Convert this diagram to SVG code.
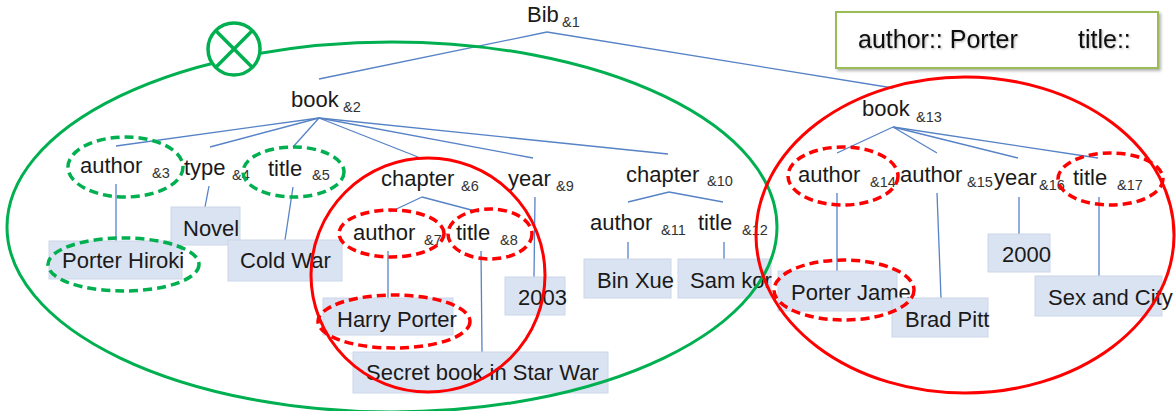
<svg xmlns="http://www.w3.org/2000/svg" width="1176" height="411" viewBox="0 0 1176 411">
<style>
  .lbl{font-family:"Liberation Sans",Arial,sans-serif;font-size:22px;fill:#1a1a1a}
  .sub{font-family:"Liberation Sans",Arial,sans-serif;font-size:14.5px;fill:#333}
  .leg{font-family:"Liberation Sans",Arial,sans-serif;font-size:25px;fill:#111}
  .box{fill:#dae3f1;stroke:#cbd6ea;stroke-width:1}
  .con line{stroke:#5682c6;stroke-width:1.3;fill:none}
  .gs{fill:none;stroke:#00b050;stroke-width:3}
  .gd{fill:none;stroke:#00b050;stroke-width:3.5;stroke-dasharray:9 5}
  .rs{fill:none;stroke:#ff0000;stroke-width:3}
  .rd{fill:none;stroke:#ff0000;stroke-width:3.5;stroke-dasharray:9 5}
</style>
<defs>
  <filter id="sh" x="-10%" y="-20%" width="130%" height="150%">
    <feDropShadow dx="2" dy="2" stdDeviation="1.5" flood-color="#000" flood-opacity="0.3"/>
  </filter>
  <filter id="tsh" x="-10%" y="-30%" width="120%" height="160%">
    <feDropShadow dx="1" dy="1" stdDeviation="1" flood-color="#000" flood-opacity="0.3"/>
  </filter>
</defs>

<g id="connectors" class="con">
  <line x1="547" y1="32" x2="319" y2="79"/>
  <line x1="547" y1="32" x2="893" y2="88"/>
  <line x1="319" y1="118" x2="116" y2="146"/>
  <line x1="319" y1="118" x2="210" y2="147"/>
  <line x1="319" y1="118" x2="293" y2="147"/>
  <line x1="319" y1="118" x2="418" y2="157"/>
  <line x1="319" y1="118" x2="533" y2="158"/>
  <line x1="319" y1="118" x2="668" y2="154"/>
  <line x1="116" y1="184" x2="116" y2="241"/>
  <line x1="209" y1="186" x2="205" y2="207"/>
  <line x1="293" y1="187" x2="285" y2="240"/>
  <line x1="422" y1="197" x2="390" y2="212"/>
  <line x1="422" y1="197" x2="479" y2="212"/>
  <line x1="388" y1="251" x2="388" y2="298"/>
  <line x1="481" y1="251" x2="482" y2="352"/>
  <line x1="535" y1="197" x2="534" y2="277"/>
  <line x1="669" y1="192" x2="628" y2="202"/>
  <line x1="669" y1="192" x2="723" y2="202"/>
  <line x1="628" y1="242" x2="628" y2="259"/>
  <line x1="724" y1="242" x2="724" y2="259"/>
  <line x1="893" y1="127" x2="837" y2="153"/>
  <line x1="893" y1="127" x2="937" y2="153"/>
  <line x1="893" y1="127" x2="1018" y2="158"/>
  <line x1="893" y1="127" x2="1098" y2="158"/>
  <line x1="837" y1="193" x2="837" y2="272"/>
  <line x1="937" y1="193" x2="941" y2="298"/>
  <line x1="1019" y1="197" x2="1019" y2="234"/>
  <line x1="1099" y1="197" x2="1099" y2="277"/>
</g>

<g id="n-bib"><text class="lbl" x="527" y="22">Bib</text><text class="sub" x="562" y="27">&amp;1</text></g>
<g id="n-book2"><text class="lbl" x="291" y="107">book</text><text class="sub" x="343" y="112">&amp;2</text></g>
<g id="n-author3"><text class="lbl" x="80" y="173">author</text><text class="sub" x="152" y="178">&amp;3</text></g>
<g id="n-type4"><text class="lbl" x="184" y="175">type</text><text class="sub" x="232" y="180">&amp;4</text></g>
<g id="n-title5"><text class="lbl" x="268" y="176">title</text><text class="sub" x="312" y="180">&amp;5</text></g>
<g id="n-chapter6"><text class="lbl" x="381" y="186">chapter</text><text class="sub" x="461" y="191">&amp;6</text></g>
<g id="n-year9"><text class="lbl" x="508" y="186">year</text><text class="sub" x="556" y="191">&amp;9</text></g>
<g id="n-chapter10"><text class="lbl" x="626" y="182">chapter</text><text class="sub" x="707" y="186">&amp;10</text></g>
<g id="n-author7"><text class="lbl" x="353" y="240">author</text><text class="sub" x="424" y="245">&amp;7</text></g>
<g id="n-title8"><text class="lbl" x="456" y="240">title</text><text class="sub" x="500" y="245">&amp;8</text></g>
<g id="n-author11"><text class="lbl" x="590" y="230">author</text><text class="sub" x="661" y="235">&amp;11</text></g>
<g id="n-title12"><text class="lbl" x="698" y="230">title</text><text class="sub" x="742" y="235">&amp;12</text></g>
<g id="n-book13"><text class="lbl" x="862" y="116">book</text><text class="sub" x="916" y="122">&amp;13</text></g>
<g id="n-author14"><text class="lbl" x="798" y="182">author</text><text class="sub" x="870" y="187">&amp;14</text></g>
<g id="n-author15"><text class="lbl" x="900" y="182">author</text><text class="sub" x="967" y="187">&amp;15</text></g>
<g id="n-year16"><text class="lbl" x="994" y="185">year</text><text class="sub" x="1039" y="190">&amp;16</text></g>
<g id="n-title17"><text class="lbl" x="1073" y="185">title</text><text class="sub" x="1117" y="190">&amp;17</text></g>

<g id="v-porter-hiroki"><rect class="box" x="49" y="241" width="133" height="38"/><text class="lbl" x="62" y="268">Porter Hiroki</text></g>
<g id="v-novel"><rect class="box" x="171" y="207" width="69" height="38"/><text class="lbl" x="183" y="236">Novel</text></g>
<g id="v-cold-war"><rect class="box" x="228" y="240" width="114" height="41"/><text class="lbl" x="240" y="268">Cold War</text></g>
<g id="v-harry-porter"><rect class="box" x="323" y="298" width="130" height="37"/><text class="lbl" x="337" y="327">Harry Porter</text></g>
<g id="v-secret"><rect class="box" x="353" y="352" width="255" height="41"/><text class="lbl" x="366" y="380">Secret book in Star War</text></g>
<g id="v-2003"><rect class="box" x="505" y="277" width="60" height="38"/><text class="lbl" x="518" y="305">2003</text></g>
<g id="v-bin-xue"><rect class="box" x="584" y="259" width="87" height="39"/><text class="lbl" x="597" y="288">Bin Xue</text></g>
<g id="v-sam-kor"><rect class="box" x="678" y="259" width="93" height="39"/><text class="lbl" x="690" y="288">Sam kor</text></g>
<g id="v-porter-jame"><rect class="box" x="778" y="271" width="119" height="40"/><text class="lbl" x="791" y="300">Porter Jame</text></g>
<g id="v-brad-pitt"><rect class="box" x="892" y="298" width="96" height="39"/><text class="lbl" x="905" y="327">Brad Pitt</text></g>
<g id="v-2000"><rect class="box" x="988" y="234" width="62" height="38"/><text class="lbl" x="1002" y="262">2000</text></g>
<g id="v-sex-city"><rect class="box" x="1035" y="276" width="127" height="40"/><text class="lbl" x="1048" y="305">Sex and City</text></g>

<g id="selections">
  <ellipse class="gs" cx="392" cy="227" rx="385" ry="185"/>
  <circle class="rs" cx="428" cy="275" r="117"/>
  <ellipse class="rs" cx="965" cy="235" rx="209" ry="158"/>
  <ellipse class="gd" cx="125.5" cy="167" rx="57.5" ry="30"/>
  <ellipse class="gd" cx="293.5" cy="172" rx="50.5" ry="25"/>
  <ellipse class="gd" cx="123.5" cy="264.5" rx="75.5" ry="26.5"/>
  <ellipse class="rd" cx="391.5" cy="233.5" rx="52.5" ry="23.5"/>
  <ellipse class="rd" cx="490" cy="234" rx="42" ry="25"/>
  <ellipse class="rd" cx="394" cy="321.5" rx="76" ry="26.5"/>
  <ellipse class="rd" cx="843" cy="176" rx="55" ry="29"/>
  <ellipse class="rd" cx="1110.5" cy="179" rx="52.5" ry="26"/>
  <ellipse class="rd" cx="844" cy="290" rx="70" ry="30"/>
</g>

<g id="cross-symbol">
  <circle cx="234" cy="49" r="26" fill="#fff" stroke="#00b050" stroke-width="3.5"/>
  <line x1="215.6" y1="30.6" x2="252.4" y2="67.4" stroke="#00b050" stroke-width="3.5"/>
  <line x1="252.4" y1="30.6" x2="215.6" y2="67.4" stroke="#00b050" stroke-width="3.5"/>
</g>

<g id="legend">
  <rect x="836" y="12" width="322" height="56" fill="#fff" stroke="#9bbb59" stroke-width="2" filter="url(#sh)"/>
  <text class="leg" x="858" y="48" filter="url(#tsh)">author:: Porter</text>
  <text class="leg" x="1078" y="48" filter="url(#tsh)">title::</text>
</g>
</svg>
